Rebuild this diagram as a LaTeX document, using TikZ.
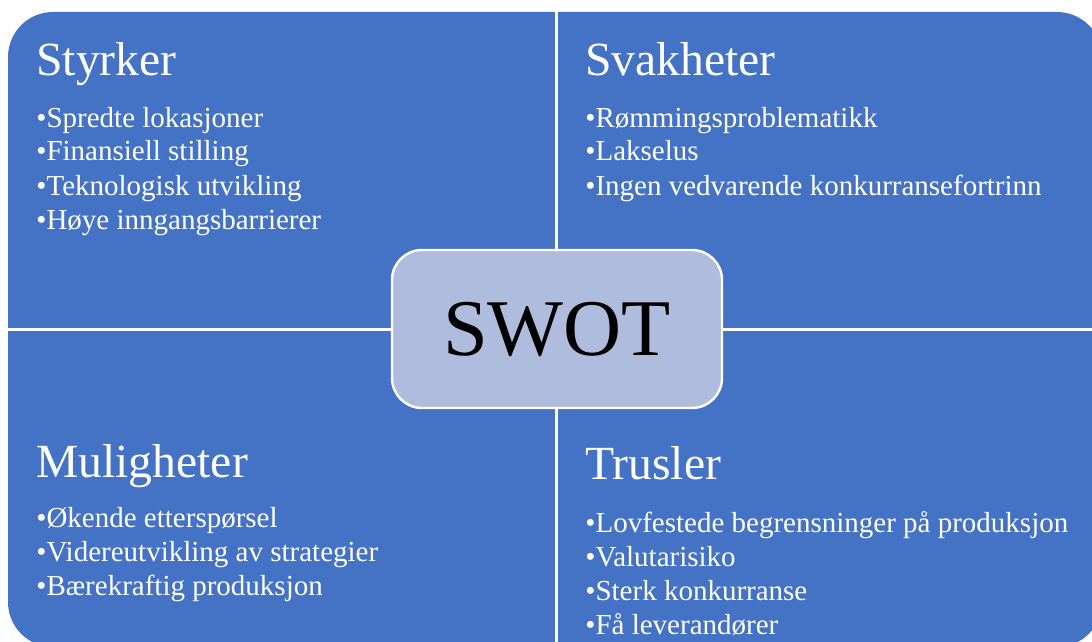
\documentclass[tikz,border=0pt]{standalone}
\usepackage{fontspec}
\setmainfont{Liberation Serif}
\definecolor{swotblue}{HTML}{4472C4}
\definecolor{swotlight}{RGB}{175,188,222}
\begin{document}
\begin{tikzpicture}[
    x=0.5pt, y=-0.5pt,
    panel/.style={fill=swotblue, rounded corners=22.5pt},
    divider/.style={draw=white, line width=1.5pt},
    heading/.style={anchor=base west, inner sep=0pt, text=white,
                    font=\fontsize{23.8}{28}\selectfont},
    item/.style={anchor=base west, inner sep=0pt, text=white,
                 font=\fontsize{14.5}{17}\selectfont},
    core/.style={draw=white, line width=1.2pt, fill=swotlight,
                 rounded corners=15pt, minimum width=165pt, minimum height=79pt,
                 font=\fontsize{40.2}{48}\selectfont}
]
\useasboundingbox (0,0) rectangle (1092,642);
\clip (0,0) rectangle (1092,642);

%% Bakgrunn
\fill[panel] (8,12) rectangle (1102,647);
\coordinate (vtop) at (556,0);
\coordinate (vbot) at (556,642);
\coordinate (hleft) at (0,329);
\coordinate (hright) at (1092,329);
\draw[divider] (vtop) -- (vbot);
\draw[divider] (hleft) -- (hright);

%% Styrker
\node[heading] (styrker) at (36,76) {Styrker};
\foreach \txt [count=\i] in {Spredte lokasjoner, Finansiell stilling,
    Teknologisk utvikling, Høye inngangsbarrierer}
  \node[item] (s\i) at (36,93+34*\i) {•\txt};

%% Svakheter
\node[heading] (svakheter) at (585,76) {Svakheter};
\foreach \txt [count=\i] in {Rømmingsproblematikk, Lakselus,
    Ingen vedvarende konkurransefortrinn}
  \node[item] (w\i) at (585,93+34*\i) {•\txt};

%% Muligheter
\node[heading] (muligheter) at (36,477) {Muligheter};
\foreach \txt [count=\i] in {Økende etterspørsel, Videreutvikling av strategier,
    Bærekraftig produksjon}
  \node[item] (o\i) at (36,493+34*\i) {•\txt};

%% Trusler
\node[heading] (trusler) at (585,479) {Trusler};
\foreach \txt [count=\i] in {Lovfestede begrensninger på produksjon, Valutarisiko,
    Sterk konkurranse, Få leverandører}
  \node[item] (t\i) at (585,498+34*\i) {•\txt};

%% Midten
\node[core] (swot) at (557,329) {SWOT};

\end{tikzpicture}
\end{document}
